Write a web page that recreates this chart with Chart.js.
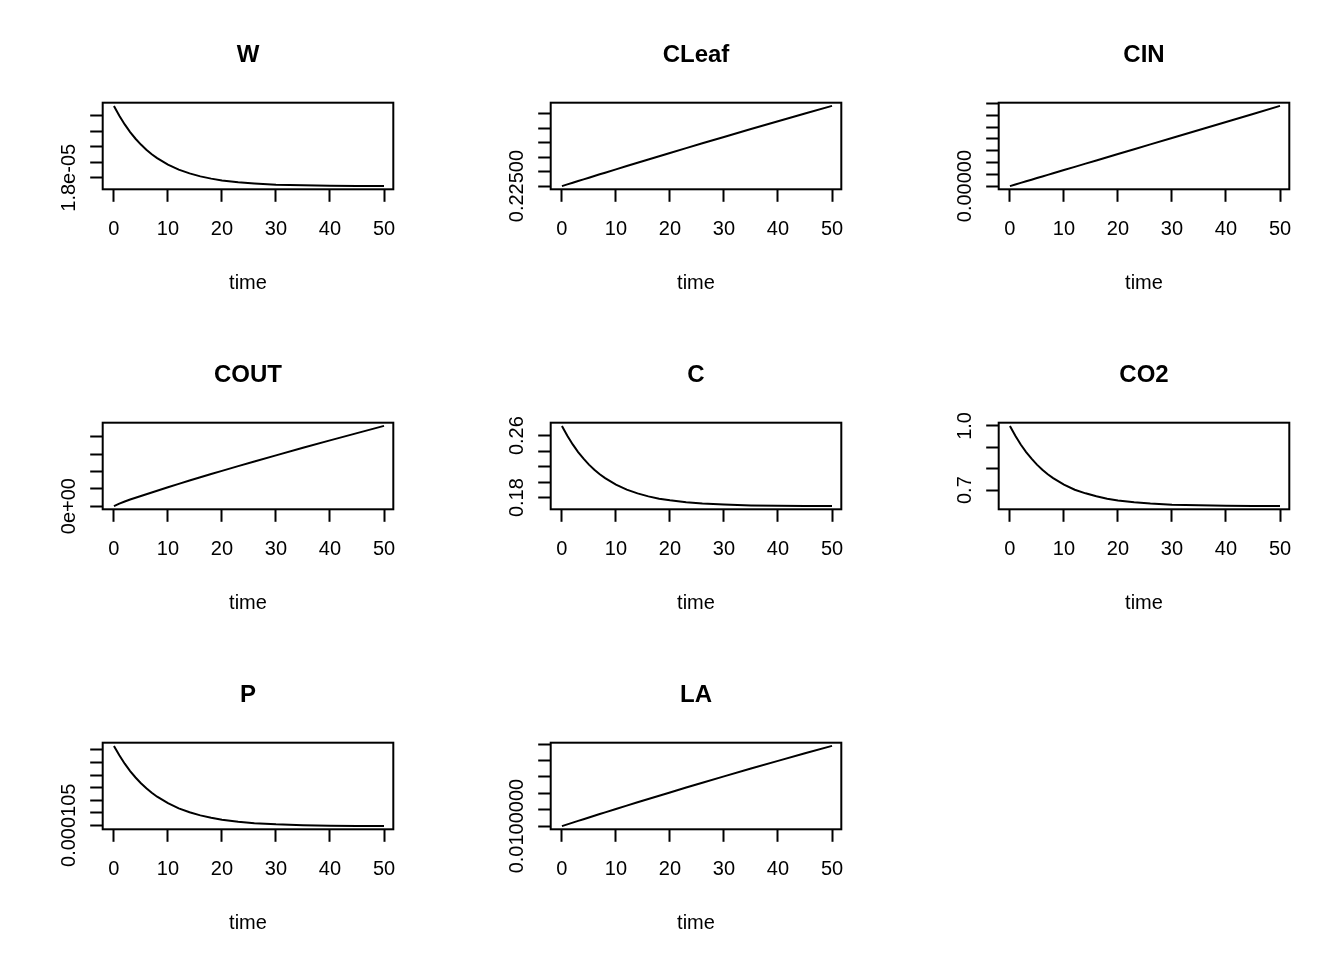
<!DOCTYPE html>
<html>
<head>
<meta charset="utf-8">
<script src="https://cdn.jsdelivr.net/npm/chart.js@4.4.0/dist/chart.umd.min.js"></script>
<style>
html,body{margin:0;padding:0;background:#ffffff;}
#wrap{position:relative;width:1344px;height:960px;overflow:hidden;background:#ffffff;}
#wrap canvas{position:absolute;}
</style>
</head>
<body>
<div id="wrap"></div>
<script>
// ---------------- data ----------------
const time = [0,1,2,3,4,5,6,7,8,10,12,14,16,18,20,23,26,30,35,40,45,50];

const W = [2.263e-5,2.1994e-5,2.1436e-5,2.0945e-5,2.0515e-5,2.0138e-5,1.9807e-5,1.9518e-5,1.9264e-5,
           1.8846e-5,1.8525e-5,1.8282e-5,1.8091e-5,1.7946e-5,1.7832e-5,1.7708e-5,1.7631e-5,1.7558e-5,
           1.7512e-5,1.7486e-5,1.7476e-5,1.7465e-5];
const CLeaf = [0.225,0.22500585,0.22501171,0.22501754,0.22502336,0.22502917,0.22503499,0.2250408,
               0.22504651,0.22505804,0.22506946,0.22508089,0.22509231,0.22510363,0.22511485,0.22513168,
               0.22514831,0.22517044,0.22519778,0.22522481,0.22525153,0.22527795];
const CIN = [0,0.136e-5,0.272e-5,0.409e-5,0.545e-5,0.681e-5,0.817e-5,0.953e-5,1.09e-5,1.362e-5,1.634e-5,
             1.907e-5,2.179e-5,2.452e-5,2.724e-5,3.133e-5,3.541e-5,4.086e-5,4.767e-5,5.448e-5,6.129e-5,6.81e-5];
const COUT = [0,0.142e-5,0.264e-5,0.376e-5,0.477e-5,0.579e-5,0.680e-5,0.782e-5,0.883e-5,1.086e-5,1.279e-5,
              1.472e-5,1.665e-5,1.847e-5,2.030e-5,2.304e-5,2.568e-5,2.923e-5,3.360e-5,3.786e-5,4.202e-5,4.618e-5];
const C = [0.2725,0.2598,0.2486,0.2388,0.2302,0.2226,0.2160,0.2102,0.2051,0.1967,0.1903,0.1855,0.1816,
           0.1787,0.1765,0.1740,0.1724,0.1710,0.1700,0.1695,0.1693,0.1691];
const CO2 = [1.000,0.954,0.913,0.878,0.847,0.819,0.795,0.774,0.756,0.7255,0.702,0.685,0.671,0.660,0.652,
             0.643,0.637,0.632,0.629,0.627,0.626,0.6254];
const P = [1.366e-4,1.3284e-4,1.2952e-4,1.2659e-4,1.2401e-4,1.2173e-4,1.1972e-4,1.1794e-4,1.1637e-4,
           1.1377e-4,1.1174e-4,1.1016e-4,1.0893e-4,1.0797e-4,1.0723e-4,1.0640e-4,1.0584e-4,1.0535e-4,
           1.0500e-4,1.0481e-4,1.0472e-4,1.0466e-4];
const LA = [0.0100000000,0.0100000106,0.0100000211,0.0100000316,0.0100000420,0.0100000525,0.0100000629,
            0.0100000733,0.0100000836,0.0100001042,0.0100001246,0.0100001450,0.0100001651,0.0100001852,
            0.0100002051,0.0100002347,0.0100002641,0.0100003028,0.0100003504,0.0100003972,0.0100004432,
            0.0100004884];

// tick values and the tick labels that are visible in the reference
const xTicks = [0,10,20,30,40,50];
const xLabel = 'time';
const yTicksW = [1.8e-5,1.9e-5,2.0e-5,2.1e-5,2.2e-5];
const yLabelsW = ['1.8e-05','','','',''];
const yTicksCLeaf = [0.225,0.22505,0.2251,0.22515,0.2252,0.22525];
const yLabelsCLeaf = ['0.22500','','','','',''];
const yTicksCIN = [0,1e-5,2e-5,3e-5,4e-5,5e-5,6e-5,7e-5];
const yLabelsCIN = ['0.00000','','','','','','',''];
const yTicksCOUT = [0,1e-5,2e-5,3e-5,4e-5];
const yLabelsCOUT = ['0e+00','','','',''];
const yTicksC = [0.18,0.20,0.22,0.24,0.26];
const yLabelsC = ['0.18','','','','0.26'];
const yTicksCO2 = [0.7,0.8,0.9,1.0];
const yLabelsCO2 = ['0.7','','','1.0'];
const yTicksP = [1.05e-4,1.10e-4,1.15e-4,1.20e-4,1.25e-4,1.30e-4,1.35e-4];
const yLabelsP = ['0.000105','','','','','',''];
const yTicksLA = [0.01,0.0100001,0.0100002,0.0100003,0.0100004,0.0100005];
const yLabelsLA = ['0.0100000','','','','',''];

const titles = ['W','CLeaf','CIN','COUT','C','CO2','P','LA'];

// ---------------- layout ----------------
const CELL_W = 448, CELL_H = 320;
const BOX = {left:102.7, top:102.7, right:393.3, bottom:189.3};
const X_MIN = -2.08, X_MAX = 51.72;
const FONT = '"Liberation Sans", Arial, Helvetica, sans-serif';

const panels = [
  {title:titles[0], y:W,     ticks:yTicksW,     labels:yLabelsW},
  {title:titles[1], y:CLeaf, ticks:yTicksCLeaf, labels:yLabelsCLeaf},
  {title:titles[2], y:CIN,   ticks:yTicksCIN,   labels:yLabelsCIN},
  {title:titles[3], y:COUT,  ticks:yTicksCOUT,  labels:yLabelsCOUT},
  {title:titles[4], y:C,     ticks:yTicksC,     labels:yLabelsC},
  {title:titles[5], y:CO2,   ticks:yTicksCO2,   labels:yLabelsCO2},
  {title:titles[6], y:P,     ticks:yTicksP,     labels:yLabelsP},
  {title:titles[7], y:LA,    ticks:yTicksLA,    labels:yLabelsLA}
];

const rStyle = {
  id: 'rStyle',
  afterDraw(chart, args, opts) {
    const ctx = chart.ctx, a = chart.chartArea;
    ctx.save();
    ctx.strokeStyle = '#000'; ctx.lineWidth = 2;
    ctx.strokeRect(a.left, a.top, a.right - a.left, a.bottom - a.top);
    ctx.fillStyle = '#000';
    const cx = (a.left + a.right) / 2;
    ctx.textAlign = 'center'; ctx.textBaseline = 'alphabetic';
    ctx.font = 'bold 24px ' + FONT;
    ctx.fillText(opts.title, cx, 61.7);
    ctx.font = '20px ' + FONT;
    ctx.fillText(xLabel, cx, 288.5);
    const ys = chart.scales.y;
    opts.ticks.forEach((v, i) => {
      const lab = opts.labels[i];
      if (!lab) return;
      const py = ys.getPixelForValue(v);
      ctx.save();
      ctx.translate(a.left - 28, py);
      ctx.rotate(-Math.PI / 2);
      ctx.fillText(lab, 0, 0);
      ctx.restore();
    });
    ctx.restore();
  }
};

const wrap = document.getElementById('wrap');
panels.forEach((p, idx) => {
  const col = idx % 3, row = Math.floor(idx / 3);
  const cv = document.createElement('canvas');
  cv.width = CELL_W; cv.height = CELL_H;
  cv.style.left = (col * CELL_W) + 'px';
  cv.style.top = (row * CELL_H) + 'px';
  cv.style.width = CELL_W + 'px'; cv.style.height = CELL_H + 'px';
  wrap.appendChild(cv);

  const lo = Math.min(...p.y), hi = Math.max(...p.y);
  const pad = (hi - lo) * 0.04;
  const gridOpts = {drawOnChartArea:false, drawTicks:true, tickLength:12.5, tickWidth:2, tickColor:'#000', color:'#000'};

  new Chart(cv, {
    type: 'line',
    data: {
      datasets: [{
        data: time.map((t, i) => ({x: t, y: p.y[i]})),
        borderColor: '#000', borderWidth: 2, pointRadius: 0, fill: false, tension: 0
      }]
    },
    options: {
      responsive: false, animation: false, events: [],
      layout: {padding: {left: 0, top: BOX.top, right: CELL_W - BOX.right, bottom: 0}},
      plugins: {
        legend: {display: false}, tooltip: {enabled: false}, title: {display: false},
        rStyle: {title: p.title, ticks: p.ticks, labels: p.labels}
      },
      scales: {
        x: {
          type: 'linear', min: X_MIN, max: X_MAX,
          afterBuildTicks: s => { s.ticks = xTicks.map(v => ({value: v})); },
          afterFit: s => { s.height = CELL_H - BOX.bottom; },
          grid: gridOpts,
          border: {display: false},
          ticks: {autoSkip: false, maxRotation: 0, minRotation: 0, padding: 16, color: '#000',
                  font: {size: 20, family: FONT}, callback: v => String(v)}
        },
        y: {
          type: 'linear', min: lo - pad, max: hi + pad,
          afterBuildTicks: s => { s.ticks = p.ticks.map(v => ({value: v})); },
          afterFit: s => { s.width = BOX.left; },
          grid: gridOpts,
          border: {display: false},
          ticks: {display: false}
        }
      }
    },
    plugins: [rStyle]
  });
});
</script>
</body>
</html>
